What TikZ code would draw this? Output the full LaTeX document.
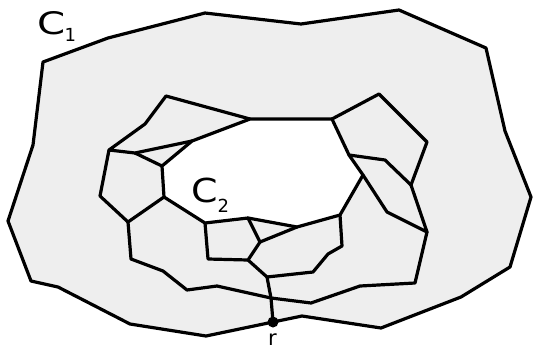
\documentclass[tikz,border=0pt]{standalone}
\usepackage{graphicx}
\usepackage{fontspec}
\setmainfont{DejaVu Sans}
\begin{document}
\begin{tikzpicture}[x=1pt,y=-1pt,
  edge/.style={line width=3.2pt,line join=round,line cap=round},
  region/.style={fill=gray!13,even odd rule},
  lab/.style={inner sep=0pt,anchor=base west,text depth=0pt}]
\useasboundingbox (0,0) rectangle (533,349);
% outer cycle C1
\coordinate (o1) at (43,62);
\coordinate (o2) at (108,38);
\coordinate (o3) at (205,13);
\coordinate (o4) at (301,24);
\coordinate (o5) at (399,10);
\coordinate (o6) at (486,48);
\coordinate (o7) at (505,131);
\coordinate (o8) at (531,197);
\coordinate (o9) at (510,267);
\coordinate (o10) at (461,297);
\coordinate (o11) at (381,328);
\coordinate (o12) at (302,316);
\coordinate (r) at (273,322);
\coordinate (o14) at (206,336);
\coordinate (o15) at (130,324);
\coordinate (o16) at (58,287);
\coordinate (o17) at (31,281);
\coordinate (o18) at (8,221);
\coordinate (o19) at (33,145);
% inner cycle C2
\coordinate (E) at (250,119);
\coordinate (h2) at (332,119);
\coordinate (h3) at (349,155);
\coordinate (h4) at (363,175);
\coordinate (h5) at (340,215);
\coordinate (h6) at (297,227);
\coordinate (h7) at (248,218);
\coordinate (h8) at (205,223);
\coordinate (H) at (164,197);
\coordinate (G) at (162,166);
\coordinate (F) at (192,141);
% other vertices
\coordinate (A) at (166,96);
\coordinate (B) at (145,124);
\coordinate (C) at (109,150);
\coordinate (D) at (135,153);
\coordinate (I) at (100,196);
\coordinate (J) at (128,222);
\coordinate (j1) at (131,259);
\coordinate (j2) at (163,271);
\coordinate (j3) at (187,290);
\coordinate (j4) at (217,286);
\coordinate (X) at (271,298);
\coordinate (j5) at (311,303);
\coordinate (j6) at (360,286);
\coordinate (j7) at (415,283);
\coordinate (P) at (427,232);
\coordinate (p1) at (411,185);
\coordinate (p2) at (427,142);
\coordinate (p3) at (379,94);
\coordinate (p4) at (385,160);
\coordinate (p5) at (387,212);
\coordinate (k1) at (342,246);
\coordinate (k2) at (328,254);
\coordinate (k3) at (313,272);
\coordinate (K) at (267,277);
\coordinate (m1) at (260,242);
\coordinate (m2) at (248,260);
\coordinate (m3) at (208,259);
% shaded region between the cycles
\fill[region] (o1)--(o2)--(o3)--(o4)--(o5)--(o6)--(o7)--(o8)--(o9)--(o10)--(o11)--(o12)--(r)--(o14)--(o15)--(o16)--(o17)--(o18)--(o19)--cycle
  (E)--(h2)--(h3)--(h4)--(h5)--(h6)--(h7)--(h8)--(H)--(G)--(F)--cycle;
% cycles
\draw[edge] (o1)--(o2)--(o3)--(o4)--(o5)--(o6)--(o7)--(o8)--(o9)--(o10)--(o11)--(o12)--(r)--(o14)--(o15)--(o16)--(o17)--(o18)--(o19)--cycle;
\draw[edge] (E)--(h2)--(h3)--(h4)--(h5)--(h6)--(h7)--(h8)--(H)--(G)--(F)--cycle;
% edges
\draw[edge] (E)--(A)--(B)--(C)--(D)--(F);
\draw[edge] (D)--(G);
\draw[edge] (C)--(I)--(J)--(H);
\draw[edge] (J)--(j1)--(j2)--(j3)--(j4)--(X)--(j5)--(j6)--(j7)--(P);
\draw[edge] (P)--(p1)--(p2)--(p3)--(h2);
\draw[edge] (p1)--(p4)--(h3);
\draw[edge] (h4)--(p5)--(P);
\draw[edge] (h5)--(k1)--(k2)--(k3)--(K);
\draw[edge] (h7)--(m1)--(h6);
\draw[edge] (m1)--(m2)--(m3)--(h8);
\draw[edge] (m2)--(K)--(X)--(r);
\fill (r) circle (5.5);
% labels
\node[lab,font=\fontsize{31}{31}\selectfont] (c1) at (37,34) {\scalebox{1.3}[1]{C}};
\node[lab,font=\fontsize{18}{18}\selectfont] (c1s) at (64.5,41) {1};
\node[lab,font=\fontsize{33}{33}\selectfont] (c2) at (191,202) {\scalebox{1.15}[1]{C}};
\node[lab,font=\fontsize{18}{18}\selectfont] (c2s) at (217.5,212) {2};
\node[lab,font=\fontsize{21}{21}\selectfont] (rl) at (268,345.5) {r};
\end{tikzpicture}
\end{document}
